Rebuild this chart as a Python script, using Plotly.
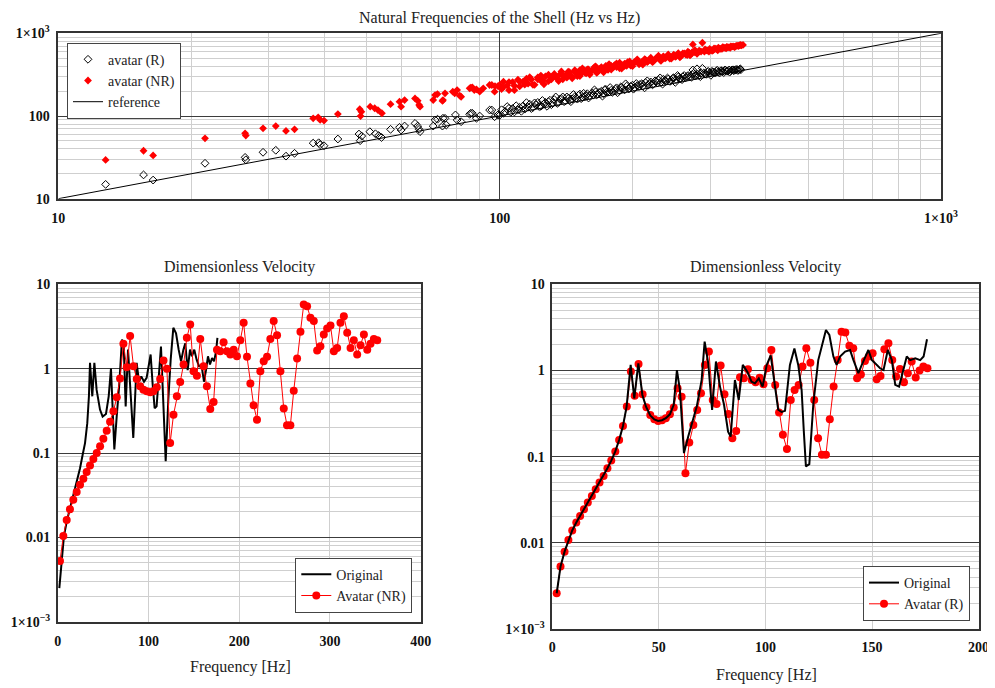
import plotly.graph_objects as go

# ---------------- data: natural frequencies (Hz vs Hz) ----------------
r_freq = [12.8, 15.6, 16.4, 21.5, 26.5, 26.6, 29.1, 31.1, 32.8, 34.3,
          37.8, 38.9, 39.2, 40.0, 43.0, 48.0, 48.3, 48.7, 50.8, 52.3,
          53.2, 54.0, 56.6, 59.3, 59.8, 60.9, 64.3, 65.2, 65.7, 66.0,
          70.7, 71.4, 72.3, 74.2, 75.2, 74.4, 75.7, 79.4, 80.1, 81.8,
          85.5, 86.0, 86.7, 88.6, 90.1, 94.9, 96.0, 97.4, 99.1,
          100, 101, 103, 104, 106, 107, 109, 110, 112, 113,
          115, 116, 118, 120, 121, 123, 125, 127, 128, 130,
          132, 134, 135, 137, 139, 141, 143, 145, 147, 149,
          151, 153, 155, 157, 159, 162, 164, 166, 168, 171,
          173, 175, 178, 180, 183, 185, 188, 190, 193, 196,
          198, 201, 204, 207, 210, 213, 216, 219, 222, 225,
          228, 231, 234, 237, 240, 243, 247, 250, 253, 256,
          259, 262, 266, 274, 272, 275, 279, 280, 285, 288,
          290, 294, 297, 301, 304, 308, 311, 315, 318, 322,
          325, 329, 332, 336, 339, 343, 346, 350, 352,
          102, 105, 108, 111, 114, 117, 119, 122, 124, 126,
          129, 131, 133, 136, 138, 140, 142, 144, 146, 148,
          150, 152, 154, 156, 158, 160, 163, 165, 167, 170,
          172, 174, 177, 179, 182, 184, 187, 189, 192, 194,
          197, 200, 202, 205, 208, 211, 214, 217, 220, 223,
          226, 229, 232, 235, 238, 241, 245, 248, 251, 254,
          257, 260, 264, 267, 270, 273, 277, 281, 283, 286,
          292, 296, 299, 303, 306, 310, 313, 317, 320, 324,
          327, 331, 334, 338, 341, 345, 348, 351]
r_avatar = [14.9, 19.4, 16.8, 26.8, 31.6, 29.5, 36.4, 38.5, 32.7, 35.4,
            47.0, 47.5, 45.0, 43.7, 52.7, 60.5, 50.3, 57.2, 64.6, 61.0,
            58.0, 55.0, 69.0, 73.0, 67.6, 75.7, 81.4, 75.5, 69.0, 64.6,
            75.5, 89.6, 91.4, 75.5, 93.8, 94.0, 77.8, 103.0, 89.6, 85.3,
            105.0, 108.0, 108.0, 93.8, 100.0, 118.0, 118.0, 98.0, 103.0,
            102, 119, 113, 130, 111, 123, 133, 119, 114, 132,
            145, 128, 123, 144, 136, 130, 154, 146, 131, 155,
            144, 170, 142, 159, 170, 152, 163, 149, 182, 165,
            178, 162, 188, 177, 165, 190, 207, 181, 193, 174,
            208, 194, 221, 193, 212, 191, 224, 213, 245, 212,
            228, 211, 247, 228, 246, 219, 266, 247, 238, 266,
            251, 289, 243, 270, 288, 262, 287, 255, 309, 284,
            275, 309, 301, 360, 294, 327, 312, 372, 299, 377,
            331, 320, 347, 310, 340, 330, 358, 331, 350, 335,
            354, 349, 339, 360, 353, 364, 356, 368, 363,
            108, 124, 112, 127, 121, 139, 127, 146, 131, 140,
            149, 137, 158, 146, 162, 149, 170, 155, 161, 171,
            160, 184, 168, 171, 186, 176, 181, 196, 184, 199,
            187, 210, 195, 205, 200, 219, 203, 222, 207, 230,
            216, 236, 220, 233, 241, 230, 253, 238, 258, 245,
            259, 272, 256, 278, 262, 280, 270, 290, 276, 297,
            283, 299, 290, 309, 300, 318, 305, 320, 310, 330,
            322, 338, 330, 347, 336, 348, 340, 352, 345, 360,
            348, 360, 352, 362, 358, 366, 360, 370]

nr_freq = [12.8, 15.6, 16.4, 21.5, 26.5, 26.6, 29.1, 31.1, 32.8, 34.3,
           37.8, 38.8, 39.2, 40.0, 43.0, 48.2, 48.4, 48.6, 50.9, 52.1,
           53.0, 54.1, 56.6, 59.3, 59.8, 60.9, 64.3, 65.2, 65.7, 66.0,
           70.7, 71.4, 72.3, 74.2, 75.2, 74.4, 78.3, 79.1, 80.1, 81.2,
           81.8, 85.5, 86.0, 86.7, 87.6, 88.6, 90.1, 91.8, 94.9, 96.0,
           97.4, 97.6, 99.1,
           100, 101, 102, 104, 105, 107, 108, 110, 111, 113,
           115, 116, 118, 120, 122, 124, 125, 127, 129, 131,
           133, 135, 137, 139, 141, 143, 145, 148, 150, 152,
           154, 157, 159, 161, 164, 166, 169, 171, 174, 176,
           179, 181, 184, 187, 189, 192, 195, 198, 201, 204,
           207, 210, 213, 216, 219, 222, 225, 228, 231, 234,
           237, 240, 243, 247, 250, 253, 256, 259, 262, 266,
           269, 272, 274, 277, 280, 284, 288, 291, 294, 298,
           301, 305, 308, 312, 315, 319, 322, 326, 329, 333,
           336, 340, 343, 347, 350, 353, 356,
           102, 105, 108, 111, 114, 117, 119, 122, 124, 126,
           129, 131, 133, 136, 138, 140, 142, 144, 146, 148,
           150, 152, 154, 156, 158, 160, 163, 165, 167, 170,
           172, 174, 177, 179, 182, 184, 187, 189, 192, 194,
           197, 200, 202, 205, 208, 211, 214, 217, 220, 223,
           226, 229, 232, 235, 238, 241, 245, 248, 251, 254,
           257, 260, 264, 267, 270, 273, 277, 281, 283, 286,
           292, 296, 299, 303, 306, 310, 313, 317, 320, 324,
           327, 331, 334, 338, 341, 345, 348, 351]
nr_avatar = [29.4, 38.0, 33.4, 53.7, 61.8, 58.0, 71.0, 75.5, 66.0, 69.0,
             93.8, 96.3, 89.6, 88.0, 105.6, 120.7, 99.8, 112.5, 129.5, 124.0,
             118.0, 108.0, 139.0, 149.0, 129.5, 156.0, 163.0, 153.0, 136.0, 129.5,
             156.0, 179.0, 184.0, 152.0, 188.0, 156.0, 197.0, 188.0, 206.0, 176.0,
             171.0, 216.0, 220.0, 222.0, 206.0, 210.0, 197.0, 216.0, 237.0, 237.0,
             197.0, 230.0, 230.0,
             237, 212, 260, 234, 205, 257, 232, 275, 228, 260,
             282, 246, 277, 238, 278, 308, 269, 302, 264, 295,
             322, 284, 318, 278, 310, 343, 307, 337, 303, 359,
             336, 327, 366, 345, 390, 332, 375, 359, 404, 361,
             403, 389, 432, 378, 416, 403, 449, 408, 438, 461,
             422, 449, 486, 449, 482, 448, 484, 513, 476, 510,
             498, 533, 493, 529, 520, 557, 512, 549, 571, 545,
             578, 566, 734, 587, 566, 613, 769, 599, 623, 602,
             632, 625, 653, 624, 652, 648, 673, 659, 678, 669,
             689, 687, 700, 704, 714, 713, 723,
             224, 257, 205, 261, 239, 295, 238, 293, 267, 242,
             316, 278, 306, 265, 345, 305, 291, 338, 286, 358,
             333, 304, 377, 335, 367, 317, 368, 399, 347, 391,
             337, 379, 425, 365, 411, 390, 441, 374, 430, 404,
             457, 400, 444, 484, 437, 418, 479, 460, 506, 459,
             497, 536, 464, 526, 505, 554, 495, 551, 527, 574,
             524, 572, 554, 598, 540, 590, 626, 579, 617, 601,
             637, 616, 646, 612, 655, 645, 670, 647, 678, 667,
             687, 675, 695, 696, 682, 711, 703, 723]

ref_freq = [10, 1000]
ref_line = [10, 1000]

# ---------------- data: dimensionless velocity, NR ----------------
nrv_freq = [2.5, 6.2, 9.9, 13.5, 17.2, 20.9, 24.6, 28.3, 31.9, 35.6,
            39.3, 43.0, 46.7, 50.3, 54.0, 57.7, 61.4, 65.1, 68.7, 72.4,
            76.1, 79.8, 83.5, 87.1, 90.8, 94.5, 98.2, 101.9, 105.5, 109.2,
            112.9, 116.6, 120.3, 123.9, 127.6, 131.3, 135.0, 138.7, 142.3, 146.0,
            149.7, 153.4, 157.1, 160.7, 164.4, 168.1, 171.8, 175.5, 179.1, 182.8,
            186.5, 190.2, 193.9, 197.5, 201.2, 204.9, 208.6, 212.3, 215.9, 219.6,
            223.3, 227.0, 230.7, 234.3, 238.0, 241.7, 245.4, 249.1, 252.7, 256.4,
            260.1, 263.8, 267.5, 271.1, 274.8, 278.5, 282.2, 285.9, 289.5, 293.2,
            296.9, 300.6, 304.3, 307.9, 311.6, 315.3, 319.0, 322.7, 326.3, 330.0,
            333.7, 337.4, 341.1, 344.7, 348.4, 352.1]
nrv_avatar = [0.00526, 0.0104, 0.0161, 0.0216, 0.0279, 0.0344, 0.042, 0.0496, 0.0594, 0.0713,
              0.085, 0.1, 0.120, 0.148, 0.184, 0.235, 0.312, 0.457, 0.762, 1.97,
              1.04, 2.43, 1.07, 0.755, 0.618, 0.564, 0.539, 0.524, 0.539, 0.601,
              0.755, 1.25, 1.0, 0.131, 0.284, 0.470, 0.695, 1.12, 2.32, 3.34,
              0.931, 0.826, 2.25, 1.07, 0.618, 0.333, 0.403, 1.68, 1.61, 2.06,
              1.61, 1.47, 1.68, 1.40, 2.17, 3.49, 1.38, 0.665, 0.367, 0.248,
              0.931, 1.22, 1.38, 2.25, 3.66, 2.49, 0.931, 0.336, 0.213, 0.213,
              0.548, 1.32, 2.73, 5.77, 5.51, 4.0, 3.66, 1.64, 1.84, 2.54,
              2.99, 3.25, 1.61, 1.76, 3.49, 4.19, 2.66, 1.76, 2.17, 1.47,
              1.90, 2.54, 1.68, 1.97, 2.25, 2.17]
orig_nr_freq = [1.8, 4.4, 6.9, 10.2, 13.6, 17.2, 20.9, 24.6, 27.5, 30.1,
                32.6, 34.4, 35.6, 38.1, 40.4, 42.9, 46.6, 49.5, 53.2, 56.2,
                58.7, 60.2, 62.4, 65.0, 67.9, 70.8, 72.7, 74.9, 77.5, 79.7,
                83.3, 87.0, 89.6, 92.1, 95.1, 98.0, 102.4, 104.6, 106.8, 109.0,
                111.6, 113.8, 116.4, 119.0, 121.9, 124.5, 127.4, 130.4, 133.3, 135.9,
                138.5, 140.6, 143.2, 145.8, 147.9, 150.5, 153.1, 155.7, 158.6, 161.2,
                163.4, 165.6, 167.8, 170.1, 172.3, 174.5, 176.0]
orig_nr_vel = [0.0025, 0.0049, 0.0104, 0.0158, 0.0222, 0.032, 0.044, 0.066, 0.0955, 0.131,
               0.226, 0.47, 1.17, 0.47, 1.17, 0.56, 0.327, 0.27, 0.29, 0.47,
               1.0, 0.33, 0.11, 0.27, 0.66, 2.21, 1.93, 0.357, 1.68, 0.66,
               0.151, 1.17, 0.70, 0.81, 0.70, 0.78, 1.47, 0.66, 0.34, 0.357,
               0.81, 1.83, 0.39, 0.08, 0.43, 1.28, 3.05, 2.63, 1.68, 1.22,
               1.68, 2.0, 0.96, 1.68, 1.40, 1.68, 1.28, 1.07, 1.07, 0.70,
               0.96, 1.40, 1.12, 1.34, 1.22, 1.60, 2.32]

# ---------------- data: dimensionless velocity, R ----------------
rv_freq = [2.1, 3.9, 5.8, 7.6, 9.4, 11.3, 13.1, 14.9, 16.7, 18.6,
           20.4, 22.2, 24.1, 25.9, 27.7, 29.6, 31.4, 33.2, 35.0, 36.9,
           38.7, 40.5, 42.4, 44.2, 46.0, 47.9, 49.7, 51.5, 53.3, 55.2,
           57.0, 58.8, 60.7, 62.5, 64.3, 66.2, 68.0, 69.8, 71.6, 73.5,
           75.3, 77.1, 79.0, 80.8, 82.6, 84.5, 86.3, 88.1, 89.9, 91.8,
           93.6, 95.4, 97.3, 99.1, 100.9, 102.8, 104.6, 106.4, 108.2, 110.1,
           111.9, 113.7, 115.6, 117.4, 119.2, 121.1, 122.9, 124.7, 126.5, 128.4,
           130.2, 132.0, 133.9, 135.7, 137.5, 139.4, 141.2, 143.0, 144.8, 146.7,
           148.5, 150.3, 152.2, 154.0, 155.8, 157.7, 159.5, 161.3, 163.1, 165.0,
           166.8, 168.6, 170.5, 172.3, 174.1, 176.0]
rv_avatar = [0.0026, 0.0053, 0.0079, 0.0108, 0.0139, 0.0172, 0.0205, 0.0245, 0.0293, 0.035,
             0.0418, 0.050, 0.0597, 0.0733, 0.090, 0.115, 0.156, 0.227, 0.381, 0.97,
             0.51, 1.19, 0.53, 0.374, 0.305, 0.272, 0.26, 0.265, 0.279, 0.31,
             0.371, 0.621, 0.497, 0.064, 0.146, 0.233, 0.348, 0.543, 1.16, 1.66,
             0.455, 0.409, 1.14, 0.53, 0.313, 0.163, 0.199, 0.834, 0.81, 1.03,
             0.776, 0.73, 0.826, 0.69, 1.06, 1.73, 0.68, 0.325, 0.179, 0.123,
             0.455, 0.594, 0.68, 1.11, 1.81, 1.23, 0.455, 0.163, 0.105, 0.105,
             0.272, 0.65, 1.32, 2.82, 2.75, 1.94, 1.81, 0.81, 0.90, 1.29,
             1.45, 1.58, 0.79, 0.86, 1.76, 2.07, 1.32, 0.85, 1.04, 0.73,
             0.93, 1.27, 0.83, 1.0, 1.11, 1.06]
orig_r_freq = [2.1, 3.9, 5.8, 7.6, 9.4, 11.3, 13.1, 14.9, 16.7, 18.6,
               20.4, 22.2, 24.1, 25.9, 27.7, 29.6, 31.4, 33.2, 34.9, 36.8,
               38.5, 40.4, 42.3, 44.0, 46.0, 47.9, 49.7, 51.5, 53.3, 55.2,
               57.0, 58.5, 59.9, 61.8, 63.8, 67.8, 70.1, 71.5, 73.2, 75.0,
               76.8, 78.7, 80.6, 82.5, 83.7, 85.7, 87.5, 89.4, 91.5, 93.5,
               95.1, 96.9, 98.7, 100.6, 102.5, 104.3, 106.0, 107.6, 109.2, 111.5,
               113.6, 115.4, 117.0, 118.0, 119.0, 120.6, 122.5, 124.8, 128.4, 130.0,
               131.9, 133.4, 135.0, 137.4, 139.7, 141.3, 143.6, 145.2, 148.3, 149.9,
               152.2, 153.8, 155.4, 157.4, 159.3, 160.9, 162.7, 164.8, 166.3, 167.9,
               170.3, 172.6, 174.2, 175.8]
orig_r_vel = [0.0026, 0.0053, 0.0079, 0.0108, 0.0139, 0.0172, 0.0205, 0.0245, 0.0293, 0.035,
              0.0418, 0.050, 0.0597, 0.0733, 0.090, 0.115, 0.156, 0.227, 0.381, 1.16,
              0.475, 1.21, 0.52, 0.38, 0.30, 0.27, 0.26, 0.265, 0.28, 0.31,
              0.40, 1.01, 0.594, 0.11, 0.171, 0.381, 0.776, 2.16, 1.21, 0.348,
              1.27, 0.65, 0.40, 0.195, 0.171, 0.776, 0.455, 1.16, 0.97, 0.74,
              0.71, 0.81, 0.65, 1.16, 1.5, 0.68, 0.35, 0.33, 0.34, 1.16,
              1.8, 1.16, 0.59, 0.2, 0.077, 0.082, 0.416, 1.32, 2.95, 2.58,
              1.45, 1.16, 1.45, 1.66, 1.73, 1.32, 0.93, 1.16, 1.73, 1.32,
              1.16, 1.06, 1.01, 1.73, 1.32, 0.68, 0.65, 1.06, 1.45, 1.32,
              1.38, 1.32, 1.45, 2.3]

# ---------------- tick labels ----------------
top_ticks = [10, 100, 1000]
top_ticktext = ["10", "100", "1×10<sup>3</sup>"]
vel_ticks = [0.001, 0.01, 0.1, 1, 10]
vel_ticktext = ["1×10<sup>−3</sup>", "0.01", "0.1", "1", "10"]
left_xticks = [0, 100, 200, 300, 400]
right_xticks = [0, 50, 100, 150, 200]

# ---------------- layout helpers ----------------
FONT = "Liberation Serif, Times New Roman, serif"
OFF = 8            # page body margin in front of the figure
W, H = 987, 680    # figure size so that it fills the 995x688 window


def dx(p):
    return (p - OFF) / W


def dy(p):
    return 1 - (p - OFF) / H


def bold(lst):
    return ["<b>" + str(t) + "</b>" for t in lst]


def minor_log(lo, hi):
    vals = []
    for e in range(lo, hi):
        for m in range(2, 10):
            vals.append(m * 10 ** e)
    return vals


fig = go.Figure()

# top chart
fig.add_trace(go.Scatter(x=r_freq, y=r_avatar, mode="markers", name="avatar (R)",
                         marker=dict(symbol="diamond-open", size=6, color="black",
                                     line=dict(width=1, color="black")),
                         xaxis="x", yaxis="y", legend="legend"))
fig.add_trace(go.Scatter(x=nr_freq, y=nr_avatar, mode="markers", name="avatar (NR)",
                         marker=dict(symbol="diamond", size=6, color="#ff0000"),
                         xaxis="x", yaxis="y", legend="legend"))
fig.add_trace(go.Scatter(x=ref_freq, y=ref_line, mode="lines", name="reference",
                         line=dict(color="black", width=1),
                         xaxis="x", yaxis="y", legend="legend"))

# bottom left
fig.add_trace(go.Scatter(x=orig_nr_freq, y=orig_nr_vel, mode="lines", name="Original",
                         line=dict(color="black", width=2),
                         xaxis="x2", yaxis="y2", legend="legend2"))
fig.add_trace(go.Scatter(x=nrv_freq, y=nrv_avatar, mode="lines+markers", name="Avatar (NR)",
                         line=dict(color="#ff0000", width=1),
                         marker=dict(symbol="circle", size=8, color="#ff0000"),
                         xaxis="x2", yaxis="y2", legend="legend2"))

# bottom right
fig.add_trace(go.Scatter(x=rv_freq, y=rv_avatar, mode="lines+markers", name="Avatar (R)",
                         line=dict(color="#ff0000", width=1),
                         marker=dict(symbol="circle", size=8, color="#ff0000"),
                         xaxis="x3", yaxis="y3", legend="legend3", legendrank=2))
fig.add_trace(go.Scatter(x=orig_r_freq, y=orig_r_vel, mode="lines", name="Original",
                         line=dict(color="black", width=2),
                         xaxis="x3", yaxis="y3", legend="legend3", legendrank=1))

tickfont = dict(family=FONT, size=14, color="#111")
frame = dict(showline=True, mirror=True, linecolor="#333", linewidth=1.5,
             ticks="", zeroline=False, tickfont=tickfont, automargin=False)
MAJ = "#3c3c3c"
MIN = "#cfcfcf"
legfont = dict(family=FONT, size=14, color="#222")

fig.update_layout(
    width=W, height=H, autosize=False,
    margin=dict(l=0, r=0, t=0, b=0, pad=0),
    paper_bgcolor="white", plot_bgcolor="white",
    font=dict(family=FONT, color="#222"),
    xaxis=dict(domain=[dx(58.3), dx(941)], anchor="y", type="log", range=[1, 3],
               tickmode="array", tickvals=top_ticks, ticktext=bold(top_ticktext),
               showgrid=True, gridcolor=MAJ, gridwidth=1, ticklabelstandoff=6,
               minor=dict(tickmode="array", tickvals=minor_log(1, 3), showgrid=True,
                          gridcolor=MIN, gridwidth=1, ticks=""),
               **frame),
    yaxis=dict(domain=[dy(198.7), dy(33.3)], anchor="x", type="log", range=[1, 3],
               tickmode="array", tickvals=top_ticks, ticktext=bold(top_ticktext),
               showgrid=True, gridcolor=MAJ, gridwidth=1, ticklabelstandoff=4,
               minor=dict(tickmode="array", tickvals=minor_log(1, 3), showgrid=True,
                          gridcolor=MIN, gridwidth=1, ticks=""),
               **frame),
    xaxis2=dict(domain=[dx(57.7), dx(420.7)], anchor="y2", range=[0, 400],
                tickmode="array", tickvals=left_xticks, ticktext=bold(left_xticks),
                showgrid=True, gridcolor=MIN, gridwidth=1, ticklabelstandoff=6,
                **frame),
    yaxis2=dict(domain=[dy(621.7), dy(284.3)], anchor="x2", type="log", range=[-3, 1],
                tickmode="array", tickvals=vel_ticks, ticktext=bold(vel_ticktext),
                showgrid=True, gridcolor=MAJ, gridwidth=1.2, ticklabelstandoff=3,
                minor=dict(tickmode="array", tickvals=minor_log(-3, 1), showgrid=True,
                           gridcolor=MIN, gridwidth=1, ticks=""),
                **frame),
    xaxis3=dict(domain=[dx(552.2), dx(978.6)], anchor="y3", range=[0, 200],
                tickmode="array", tickvals=right_xticks, ticktext=bold(right_xticks),
                showgrid=True, gridcolor=MIN, gridwidth=1, ticklabelstandoff=4,
                **frame),
    yaxis3=dict(domain=[dy(629), dy(284.3)], anchor="x3", type="log", range=[-3, 1],
                tickmode="array", tickvals=vel_ticks, ticktext=bold(vel_ticktext),
                showgrid=True, gridcolor=MAJ, gridwidth=1.2, ticklabelstandoff=3,
                minor=dict(tickmode="array", tickvals=minor_log(-3, 1), showgrid=True,
                           gridcolor=MIN, gridwidth=1, ticks=""),
                **frame),
    legend=dict(x=dx(67), y=dy(42.7), xanchor="left", yanchor="top",
                bgcolor="white", bordercolor="#444", borderwidth=1,
                font=legfont, tracegroupgap=0),
    legend2=dict(x=dx(412.3), y=dy(612.7), xanchor="right", yanchor="bottom",
                 bgcolor="white", bordercolor="#444", borderwidth=1,
                 font=legfont, tracegroupgap=0),
    legend3=dict(x=dx(970), y=dy(621), xanchor="right", yanchor="bottom",
                 bgcolor="white", bordercolor="#444", borderwidth=1,
                 font=legfont, tracegroupgap=0),
    showlegend=True,
)

title_font = dict(family=FONT, size=16, color="#222")
fig.add_annotation(text="Natural Frequencies of the Shell (Hz vs Hz)", xref="paper", yref="paper",
                   x=dx(499), y=dy(18), showarrow=False, font=title_font,
                   xanchor="center", yanchor="middle")
fig.add_annotation(text="Dimensionless Velocity", xref="paper", yref="paper",
                   x=dx(239), y=dy(267), showarrow=False, font=title_font,
                   xanchor="center", yanchor="middle")
fig.add_annotation(text="Dimensionless Velocity", xref="paper", yref="paper",
                   x=dx(765), y=dy(267), showarrow=False, font=title_font,
                   xanchor="center", yanchor="middle")
fig.add_annotation(text="Frequency [Hz]", xref="paper", yref="paper",
                   x=dx(240), y=dy(667), showarrow=False, font=title_font,
                   xanchor="center", yanchor="middle")
fig.add_annotation(text="Frequency [Hz]", xref="paper", yref="paper",
                   x=dx(766), y=dy(675), showarrow=False, font=title_font,
                   xanchor="center", yanchor="middle")

fig.write_html("out.html")
